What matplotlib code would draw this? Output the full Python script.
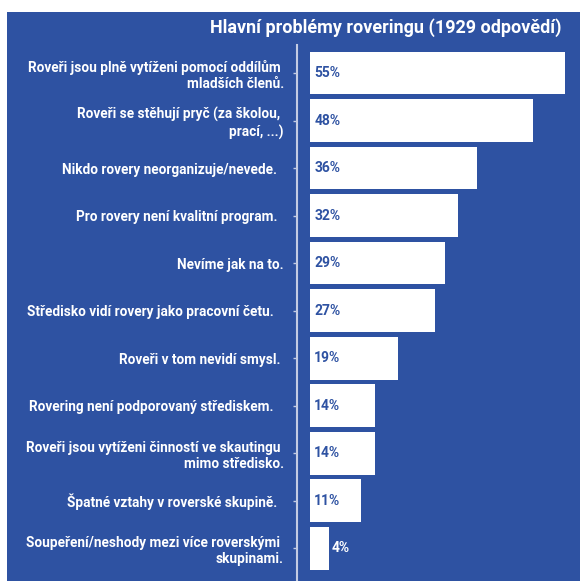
import matplotlib
matplotlib.use("Agg")
import matplotlib.pyplot as plt
from matplotlib.patches import Rectangle

plt.rcParams['font.family'] = ['Roboto', 'DejaVu Sans']

problemy = [
    "Roveři jsou plně vytíženi pomocí oddílům \nmladších členů.",
    "Roveři se stěhují pryč (za školou, \nprací, ...)",
    "Nikdo rovery neorganizuje/nevede.  ",
    "Pro rovery není kvalitní program.  ",
    "Nevíme jak na to.",
    "Středisko vidí rovery jako pracovní četu.   ",
    "Roveři v tom nevidí smysl. ",
    "Rovering není podporovaný střediskem.   ",
    "Roveři jsou vytíženi činností ve skautingu \nmimo středisko.",
    "Špatné vztahy v roverské skupině.  ",
    "Soupeření/neshody mezi více roverskými \nskupinami.",
]
procenta = [55, 48, 36, 32, 29, 27, 19, 14, 14, 11, 4]

modra = '#2E52A2'

fig = plt.figure(figsize=(5.8, 5.81), dpi=100)
fig.patch.set_facecolor('white')
fig.patches.append(Rectangle((7 / 580, 0), 1 - 7 / 580, 569 / 581,
                             transform=fig.transFigure, facecolor=modra,
                             edgecolor='none', zorder=-5))

ax = fig.add_axes([297 / 580, 0, 1 - 297 / 580, 536 / 581])
ax.set_facecolor('none')

pozice = list(range(len(problemy)))
ax.barh(pozice, procenta, height=0.9, color='white', edgecolor='none')

# popisky hodnot: uvnitř pruhu, u krátkého pruhu vedle něj
for y, v in zip(pozice, procenta):
    if v >= 8:
        ax.text(0.9, y, f"{v}%", color=modra, fontsize=10, fontweight='bold',
                va='center', ha='left')
    else:
        ax.text(v + 0.6, y, f"{v}%", color='white', fontsize=10,
                fontweight='bold', va='center', ha='left')

ax.set_xlim(-2.8, 58.2)
ax.set_ylim(10.69, -0.59)
ax.set_yticks(pozice)
ax.set_yticklabels(problemy, color='white', fontsize=9.8, fontweight='bold',
                   multialignment='right')
ax.tick_params(axis='y', length=3, width=1, color='#C3CBE3', pad=6.5)
ax.set_xticks([])

for s in ['top', 'right', 'bottom']:
    ax.spines[s].set_visible(False)
ax.spines['left'].set_color('#C3CBE3')
ax.spines['left'].set_linewidth(1.5)

fig.text(562 / 580, 1 - 28 / 581, "Hlavní problémy roveringu (1929 odpovědí)",
         color='white', fontsize=13, fontweight='bold', ha='right', va='center')

fig.savefig('out.png', dpi=100)
